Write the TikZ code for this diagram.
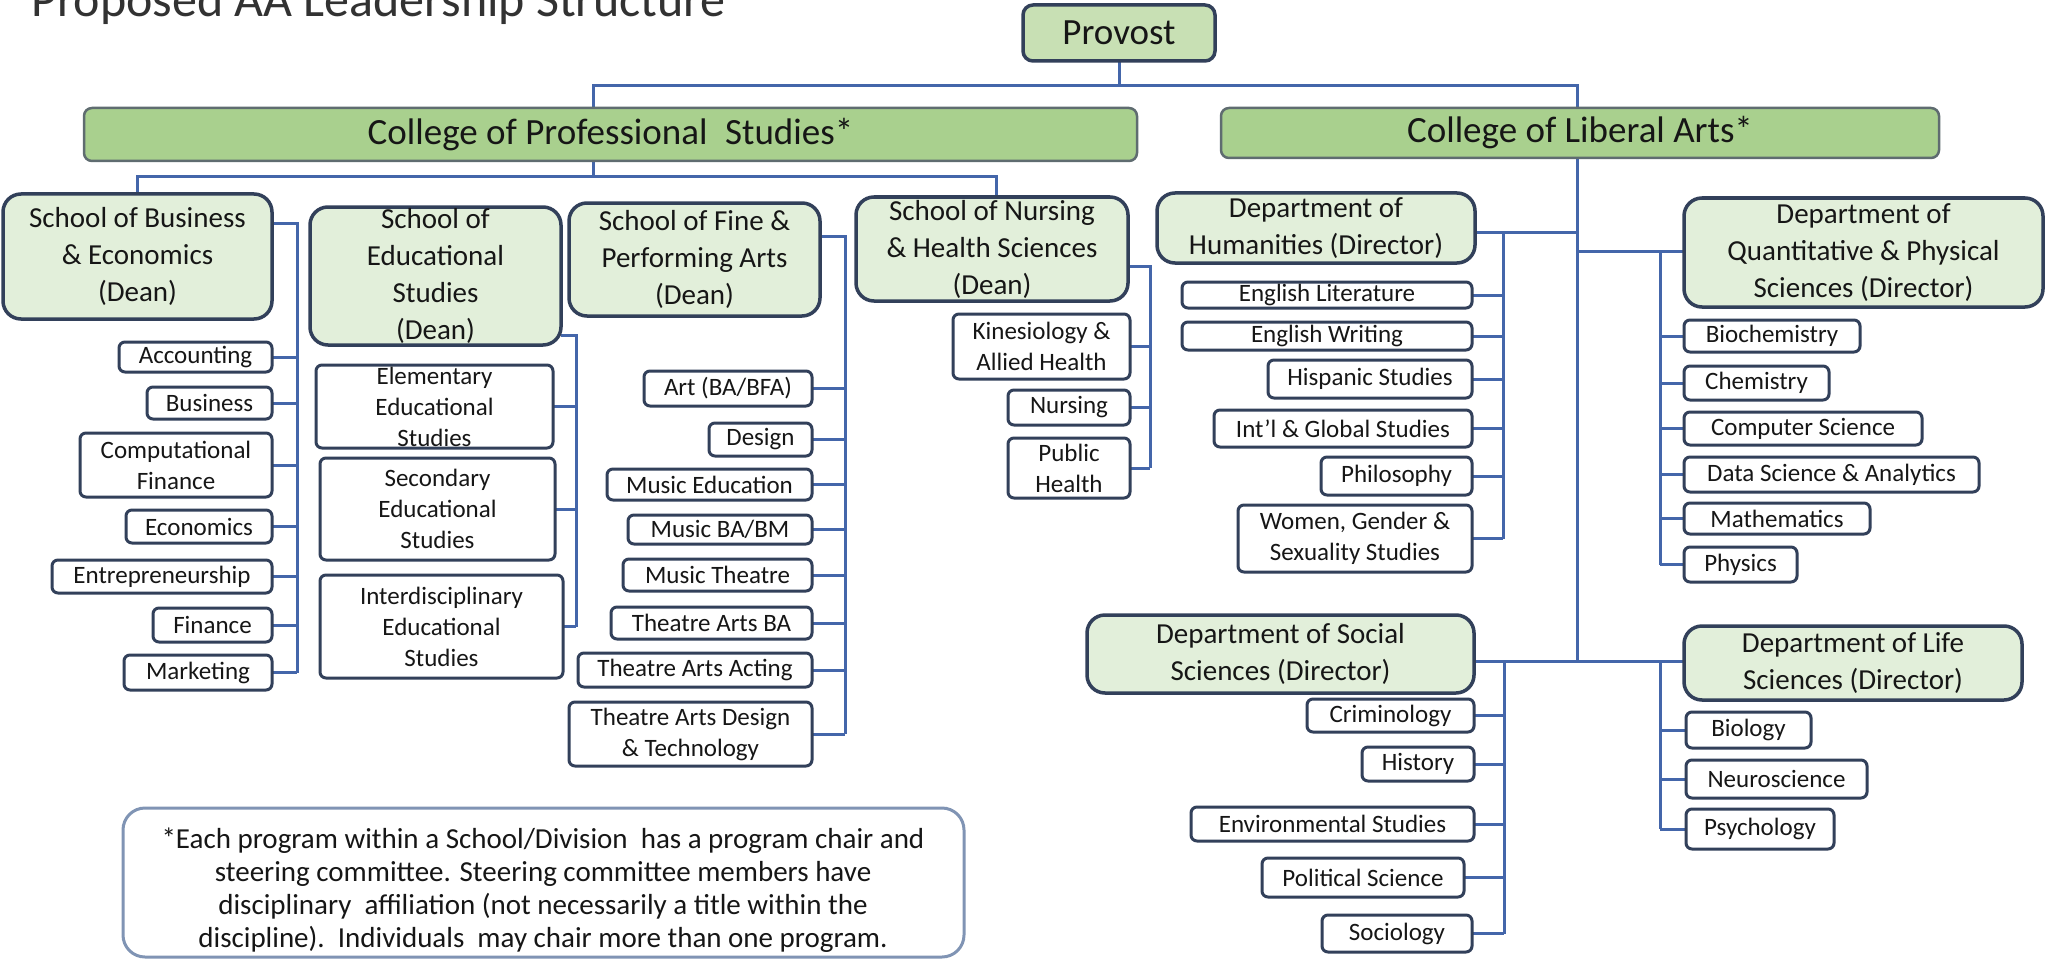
\documentclass[tikz,border=0pt]{standalone}
\usepackage{fontspec}
\setmainfont{Carlito}
\definecolor{connc}{RGB}{68,102,170}
\definecolor{bord}{RGB}{50,64,90}
\definecolor{provg}{RGB}{200,224,180}
\definecolor{colg}{RGB}{169,208,142}
\definecolor{schg}{RGB}{226,239,218}
\definecolor{txtc}{RGB}{22,22,22}
\definecolor{titc}{RGB}{50,50,50}
\definecolor{notec}{RGB}{128,148,180}
\definecolor{colb}{RGB}{95,108,112}
\newcommand\fprog{\fontsize{25}{31}\selectfont}
\newcommand\fsch{\fontsize{29}{37}\selectfont}
\newcommand\fcol{\fontsize{37}{44}\selectfont}
\newcommand\fnote{\fontsize{29}{33}\selectfont}
\newcommand\ftitle{\fontsize{50}{60}\selectfont}
\pgfdeclarelayer{bg}
\pgfdeclarelayer{back}
\pgfsetlayers{bg,back,main}
\tikzset{
  base/.style={inner sep=0pt, outer sep=0pt},
  prog/.style={base, draw=bord, line width=3pt, fill=white, rounded corners=6pt},
  school/.style={base, draw=bord, line width=3.5pt, fill=schg, rounded corners=18pt},
  prov/.style={base, draw=bord, line width=3.5pt, fill=provg, rounded corners=10pt},
  coll/.style={base, draw=colb, line width=2.5pt, fill=colg, rounded corners=8pt},
  notebox/.style={base, draw=notec, line width=3pt, fill=white, rounded corners=22pt},
  txt/.style={inner sep=0pt, outer sep=0pt, align=center, text=txtc},
  conn/.style={draw=connc, line width=3pt}
}
% name, style, x1, y1, x2, y2, font, text
\newcommand\bx[8]{%
  \node[#2, minimum width={#5-#3}, minimum height={#6-#4}] (#1) at ({(#3+#5)/2},{(#4+#6)/2}) {};
  \node[txt, font=#7] (#1-t) at (#1.center) {#8};
}
\begin{document}
\begin{tikzpicture}[x=1pt, y=-1pt]
\useasboundingbox (0,0) rectangle (2049,960);
\begin{pgfonlayer}{bg}
\fill[white] (0,0) rectangle (2049,960);
\end{pgfonlayer}

% ---------- connector coordinates ----------
\coordinate (j0) at (1119,86);
\coordinate (j1) at (593,86);
\coordinate (j2) at (1577,86);
\coordinate (j3) at (593,177);
\coordinate (j4) at (137,177);
\coordinate (j5) at (996,177);
\coordinate (k0) at (1577,661);
\coordinate (kh) at (1577,232);
\coordinate (kq) at (1577,251);
\coordinate (vb) at (297,223);
\coordinate (ve) at (576,335);
\coordinate (vf) at (845,236);
\coordinate (vn) at (1150,266);
\coordinate (vh) at (1503,232);
\coordinate (vq) at (1660,251);
\coordinate (vs) at (1504,661);
\coordinate (vl) at (1660,661);

% title (clipped at the top of the page, as in the reference)
\node[anchor=base west, font=\ftitle, text=titc, inner sep=0pt] (title) at (31,17) {Proposed AA Leadership Structure};

% top level
\bx{prov}{prov}{1023}{5}{1215}{61}{\fcol}{Provost}
\bx{cps}{coll}{84}{108}{1137}{161}{\fcol}{College of Professional\hspace{0.25em} Studies*}
\bx{cla}{coll}{1221}{108}{1939}{158}{\fcol}{College of Liberal Arts*}

% School of Business
\bx{sbe}{school}{3}{194}{272}{319}{\fsch}{School of Business\\ \& Economics\\ (Dean)}
\bx{acc}{prog}{119}{342}{272}{372}{\fprog}{Accounting}
\bx{bus}{prog}{147}{387}{272}{419}{\fprog}{Business}
\bx{cfi}{prog}{80}{433}{272}{497}{\fprog}{Computational\\Finance}
\bx{eco}{prog}{126}{510}{272}{543}{\fprog}{Economics}
\bx{ent}{prog}{52}{560}{272}{593}{\fprog}{Entrepreneurship}
\bx{fin}{prog}{153}{608}{272}{642}{\fprog}{Finance}
\bx{mkt}{prog}{124}{655}{272}{690}{\fprog}{Marketing}

% School of Educational Studies
\bx{edu}{school}{310}{207}{561}{345}{\fsch}{School of\\Educational\\Studies\\(Dean)}
\bx{ele}{prog}{316}{365}{553}{448}{\fprog}{Elementary\\Educational\\Studies}
\bx{sec}{prog}{320}{458}{555}{560}{\fprog}{Secondary\\Educational\\Studies}
\bx{int}{prog}{320}{575}{563}{678}{\fprog}{Interdisciplinary\\Educational\\Studies}

% School of Fine & Performing Arts
\bx{fpa}{school}{569}{203}{820}{316}{\fsch}{School of Fine \&\\Performing Arts\\(Dean)}
\bx{art}{prog}{644}{371}{812}{406}{\fprog}{Art (BA/BFA)}
\bx{des}{prog}{709}{423}{812}{456}{\fprog}{Design}
\bx{med}{prog}{607}{469}{812}{500}{\fprog}{Music Education}
\bx{mba}{prog}{628}{515}{812}{544}{\fprog}{Music BA/BM}
\bx{mth}{prog}{623}{559}{812}{591}{\fprog}{Music Theatre}
\bx{tba}{prog}{611}{607}{812}{639}{\fprog}{Theatre Arts BA}
\bx{tac}{prog}{578}{653}{812}{687}{\fprog}{Theatre Arts Acting}
\bx{tdt}{prog}{569}{702}{812}{766}{\fprog}{Theatre Arts Design\\\& Technology}

% School of Nursing
\bx{nur}{school}{856}{197}{1128}{301}{\fsch}{School of Nursing\\\& Health Sciences\\(Dean)}
\bx{kin}{prog}{953}{314}{1130}{379}{\fprog}{Kinesiology \&\\Allied Health}
\bx{nsg}{prog}{1008}{390}{1130}{425}{\fprog}{Nursing}
\bx{pub}{prog}{1008}{438}{1130}{498}{\fprog}{Public\\Health}

% Humanities
\bx{hum}{school}{1157}{193}{1475}{263}{\fsch}{Department of\\Humanities (Director)}
\bx{el}{prog}{1182}{282}{1472}{308}{\fprog}{English Literature}
\bx{ew}{prog}{1182}{322}{1472}{350}{\fprog}{English Writing}
\bx{hs}{prog}{1268}{360}{1472}{398}{\fprog}{Hispanic Studies}
\bx{ig}{prog}{1214}{410}{1472}{447}{\fprog}{Int’l \& Global Studies}
\bx{ph}{prog}{1321}{457}{1472}{495}{\fprog}{Philosophy}
\bx{wgs}{prog}{1238}{505}{1472}{572}{\fprog}{Women, Gender \&\\Sexuality Studies}

% Quantitative & Physical Sciences
\bx{qps}{school}{1684}{198}{2043}{307}{\fsch}{Department of\\Quantitative \& Physical\\Sciences (Director)}
\bx{bc}{prog}{1684}{320}{1860}{352}{\fprog}{Biochemistry}
\bx{ch}{prog}{1684}{366}{1829}{400}{\fprog}{Chemistry}
\bx{cs}{prog}{1684}{412}{1922}{445}{\fprog}{Computer Science}
\bx{ds}{prog}{1684}{457}{1979}{492}{\fprog}{Data Science \& Analytics}
\bx{ma}{prog}{1684}{503}{1870}{534}{\fprog}{Mathematics}
\bx{phy}{prog}{1684}{547}{1797}{582}{\fprog}{Physics}

% Social Sciences
\bx{soc}{school}{1087}{615}{1474}{693}{\fsch}{Department of Social\\Sciences (Director)}
\bx{cr}{prog}{1307}{699}{1474}{732}{\fprog}{Criminology}
\bx{hi}{prog}{1362}{747}{1474}{781}{\fprog}{History}
\bx{en}{prog}{1191}{807}{1474}{841}{\fprog}{Environmental Studies}
\bx{po}{prog}{1262}{858}{1464}{897}{\fprog}{Political Science}
\bx{sol}{prog}{1322}{915}{1472}{952}{\fprog}{Sociology}

% Life Sciences
\bx{lif}{school}{1684}{626}{2022}{700}{\fsch}{Department of Life\\Sciences (Director)}
\bx{bi}{prog}{1686}{712}{1811}{748}{\fprog}{Biology}
\bx{ne}{prog}{1686}{760}{1867}{798}{\fprog}{Neuroscience}
\bx{psy}{prog}{1686}{809}{1834}{849}{\fprog}{Psychology}

% Footnote
\node[notebox, minimum width=841, minimum height=149] (note) at (543.5,882.5) {};
\node[txt, font=\fnote] (note-t) at (543,890) {*Each program within a School/Division\ \ has a program chair and\\steering committee. Steering committee members have\\disciplinary\ \ affiliation (not necessarily a title within the\\discipline).\ \ Individuals\ \ may chair more than one program.};

% ---------- connectors (behind boxes) ----------
\begin{pgfonlayer}{back}
\draw[conn] (prov.south) -- (j0);
\draw[conn] (j1 |- cps.north) -- (j1) -- (j2) -- (j2 |- cla.north);
\draw[conn] (j3 |- cps.south) -- (j3);
\draw[conn] (j4 |- sbe.north) -- (j4) -- (j5) -- (j5 |- nur.north);
\draw[conn] (k0 |- cla.south) -- (k0);
\draw[conn] (kh -| hum.east) -- (kh);
\draw[conn] (kq) -- (kq -| qps.west);
\draw[conn] (k0 -| soc.east) -- (k0 -| lif.west);

\draw[conn] (vb -| sbe.east) -- (vb) -- (vb |- mkt.east);
\foreach \n in {acc,bus,cfi,eco,ent,fin,mkt} \draw[conn] (\n.east) -- (\n.east -| vb);

\draw[conn] (ve -| edu.east) -- (ve) -- (ve |- int.east);
\foreach \n in {ele,sec,int} \draw[conn] (\n.east) -- (\n.east -| ve);

\draw[conn] (vf -| fpa.east) -- (vf) -- (vf |- tdt.east);
\foreach \n in {art,des,med,mba,mth,tba,tac,tdt} \draw[conn] (\n.east) -- (\n.east -| vf);

\draw[conn] (vn -| nur.east) -- (vn) -- (vn |- pub.east);
\foreach \n in {kin,nsg,pub} \draw[conn] (\n.east) -- (\n.east -| vn);

\draw[conn] (vh) -- (vh |- wgs.east);
\foreach \n in {el,ew,hs,ig,ph,wgs} \draw[conn] (\n.east) -- (\n.east -| vh);

\draw[conn] (vq) -- (vq |- phy.west);
\foreach \n in {bc,ch,cs,ds,ma,phy} \draw[conn] (\n.west) -- (\n.west -| vq);

\draw[conn] (vs) -- (vs |- sol.east);
\foreach \n in {cr,hi,en,po,sol} \draw[conn] (\n.east) -- (\n.east -| vs);

\draw[conn] (vl) -- (vl |- psy.west);
\foreach \n in {bi,ne,psy} \draw[conn] (\n.west) -- (\n.west -| vl);
\end{pgfonlayer}
\end{tikzpicture}
\end{document}
